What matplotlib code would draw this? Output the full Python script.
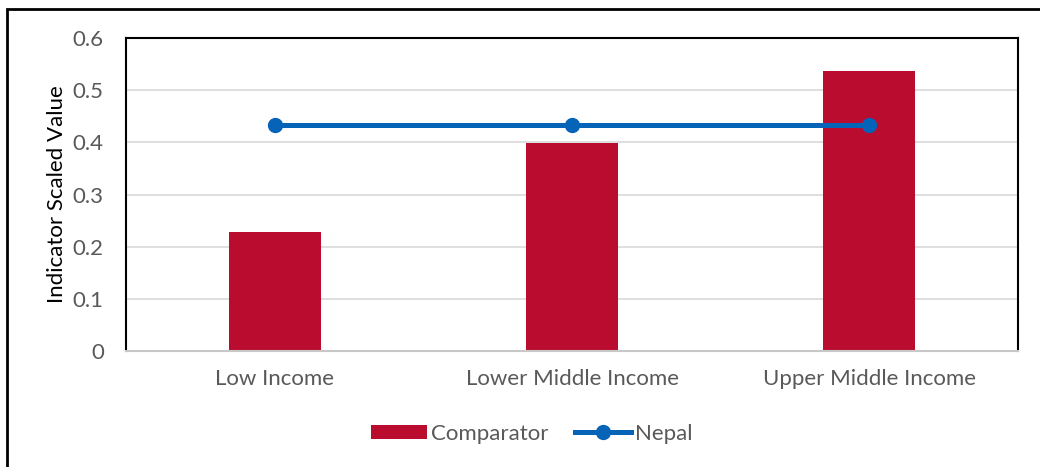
import matplotlib.pyplot as plt
from matplotlib.patches import Rectangle
import numpy as np

categories = ['Low Income', 'Lower Middle Income', 'Upper Middle Income']
comparator = [0.229, 0.399, 0.537]
nepal = [0.434, 0.434, 0.434]
yticks = [0, 0.1, 0.2, 0.3, 0.4, 0.5, 0.6]
ytick_labels = ['0', '0.1', '0.2', '0.3', '0.4', '0.5', '0.6']

plt.rcParams['font.family'] = ['Lato', 'DejaVu Sans']
text_color = '#595959'

fig = plt.figure(figsize=(10.4, 4.67), dpi=100)
ax = fig.add_axes([0.1212, 0.2484, 0.8577, 0.6702])

x = np.arange(len(categories))
bars = ax.bar(x, comparator, width=0.31, color='#BA0C2F', label='Comparator', zorder=2)
line, = ax.plot(x, nepal, color='#0563B8', linewidth=3.6, marker='o', markersize=10,
                label='Nepal', zorder=3)

ax.set_xlim(-0.5, 2.5)
ax.set_ylim(0, 0.6)
ax.set_yticks(yticks)
ax.set_yticklabels(ytick_labels)
ax.set_xticks(x)
ax.set_xticklabels(categories)
ax.tick_params(axis='both', length=0, labelsize=16, labelcolor=text_color)
ax.tick_params(axis='x', pad=13)
ax.tick_params(axis='y', pad=16)
ax.grid(axis='y', color='#d9d9d9', linewidth=1.2, zorder=0)
ax.set_axisbelow(True)

for side in ['left', 'top', 'right']:
    ax.spines[side].set_color('black')
    ax.spines[side].set_linewidth(1.5)
ax.spines['bottom'].set_color('#c8c8c8')
ax.spines['bottom'].set_linewidth(1.5)

ax.set_ylabel('Indicator Scaled Value', fontsize=16, color='black', labelpad=4)

ax.legend([bars, line], ['Comparator', 'Nepal'], loc='center',
          bbox_to_anchor=(0.455, -0.265), ncol=2, frameon=False,
          fontsize=16, labelcolor=text_color, handlelength=2.5, handleheight=0.6,
          handletextpad=0.2, columnspacing=1.2)

# outer chart border
fig.patches.append(Rectangle((7 / 1040, -0.1), 1.2, 1 - 9 / 467 + 0.1,
                             transform=fig.transFigure, fill=False,
                             edgecolor='black', linewidth=2))

fig.savefig('out.png', dpi=100)
